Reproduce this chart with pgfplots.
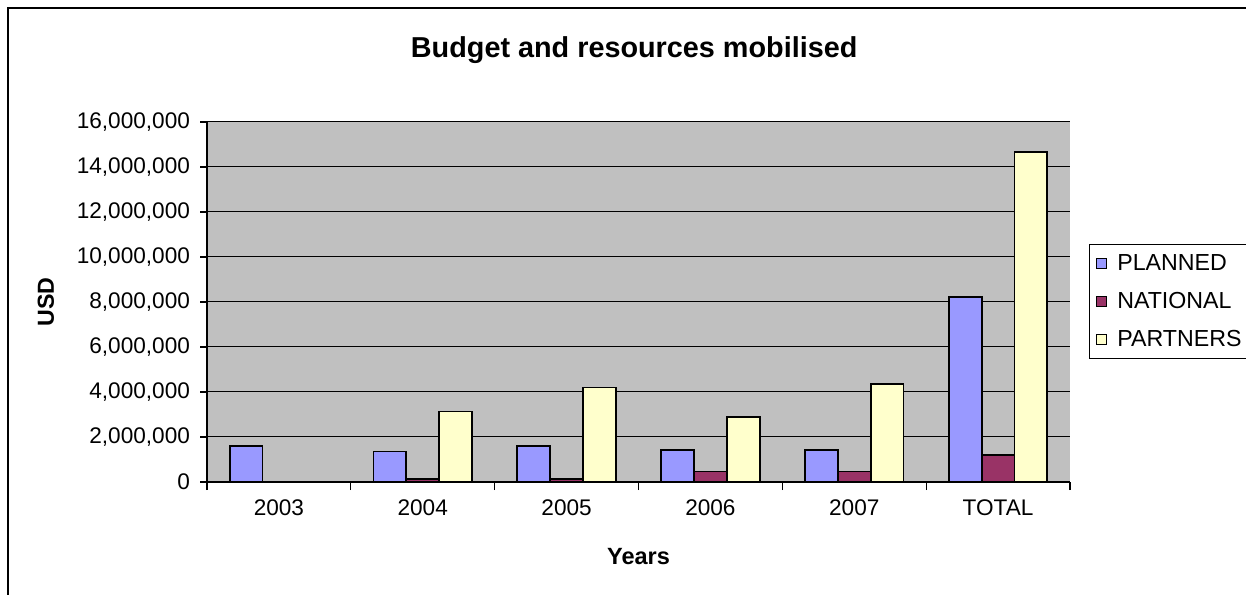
\documentclass[border=0pt]{standalone}
\usepackage{pgfplots}
\pgfplotsset{compat=1.18}
\usepackage{fontspec}
\setmainfont{Liberation Sans}
\definecolor{planned}{HTML}{9999FF}
\definecolor{national}{HTML}{993366}
\definecolor{partners}{HTML}{FFFFCC}
\definecolor{bg}{HTML}{C0C0C0}
\begin{document}
\begin{tikzpicture}[x=1pt,y=1pt]
\useasboundingbox (0,0) rectangle (623,297);
\draw[line width=1pt] (4,-10) -- (4,293) -- (640,293);
\begin{axis}[
  at={(103.5pt,56pt)}, anchor=south west,
  scale only axis, width=431.5pt, height=180pt,
  xmin=-0.5, xmax=5.5, ymin=0, ymax=16000000,
  ybar=0pt, bar width=16.4pt,
  axis background/.style={fill=bg},
  axis x line*=bottom, axis y line*=left,
  axis line style={black, line width=0.6pt},
  ymajorgrids, major grid style={black, line width=0.5pt},
  ytick={0,2000000,...,16000000},
  scaled y ticks=false,
  /pgf/number format/fixed,
  /pgf/number format/1000 sep={,},
  /pgf/number format/assume math mode=true,
  yticklabel style={xshift=-1.5pt},
  xtick={0,...,5}, xticklabels={2003,2004,2005,2006,2007,TOTAL},
  major x tick style={draw=none},
  extra x ticks={-0.5,0.5,1.5,2.5,3.5,4.5,5.5},
  extra x tick labels={},
  extra x tick style={major x tick style={draw=black, line width=0.6pt}, xmajorgrids=false, major tick length=4pt},
  tick align=outside, major tick length=3.5pt,
  tick style={black, line width=0.6pt},
  ticklabel style={font=\fontsize{11.3}{13}\selectfont},
  xticklabel style={yshift=-2pt},
  xlabel={Years},
  ylabel={USD},
  every axis x label/.style={at={(axis description cs:0.5,0)}, yshift=-37.5pt, anchor=center, font=\bfseries\fontsize{11.75}{13}\selectfont},
  every axis y label/.style={at={(axis description cs:0,0.5)}, xshift=-80.5pt, rotate=90, anchor=center, font=\bfseries\fontsize{11.6}{13}\selectfont},
  title={Budget and resources mobilised},
  every axis title/.style={at={(axis description cs:0.495,1)}, yshift=36pt, anchor=center, font=\bfseries\fontsize{14.4}{17}\selectfont},
  legend style={at={(rel axis cs:1.022,0.661)}, anchor=north west, draw=black, line width=0.5pt, fill=white,
    font=\fontsize{11.6}{13}\selectfont, row sep=6pt, inner sep=3pt,
    nodes={inner sep=1pt, text height=9pt, text depth=2pt, anchor=west}},
  legend cell align=left,
  legend image code/.code={\draw[#1, line width=0.5pt] (0pt,-2.6pt) rectangle (5.2pt,2.6pt); \path (9.2pt,0pt);},
]
\addplot[fill=planned, draw=black, line width=0.9pt] coordinates {(0,1600000) (1,1360000) (2,1590000) (3,1440000) (4,1440000) (5,8220000)};
\addplot[fill=national, draw=black, line width=0.9pt] coordinates {(1,150000) (2,150000) (3,470000) (4,470000) (5,1200000)};
\addplot[fill=partners, draw=black, line width=0.9pt] coordinates {(1,3130000) (2,4200000) (3,2890000) (4,4340000) (5,14670000)};
\legend{PLANNED,NATIONAL,PARTNERS}
\end{axis}
\end{tikzpicture}
\end{document}
